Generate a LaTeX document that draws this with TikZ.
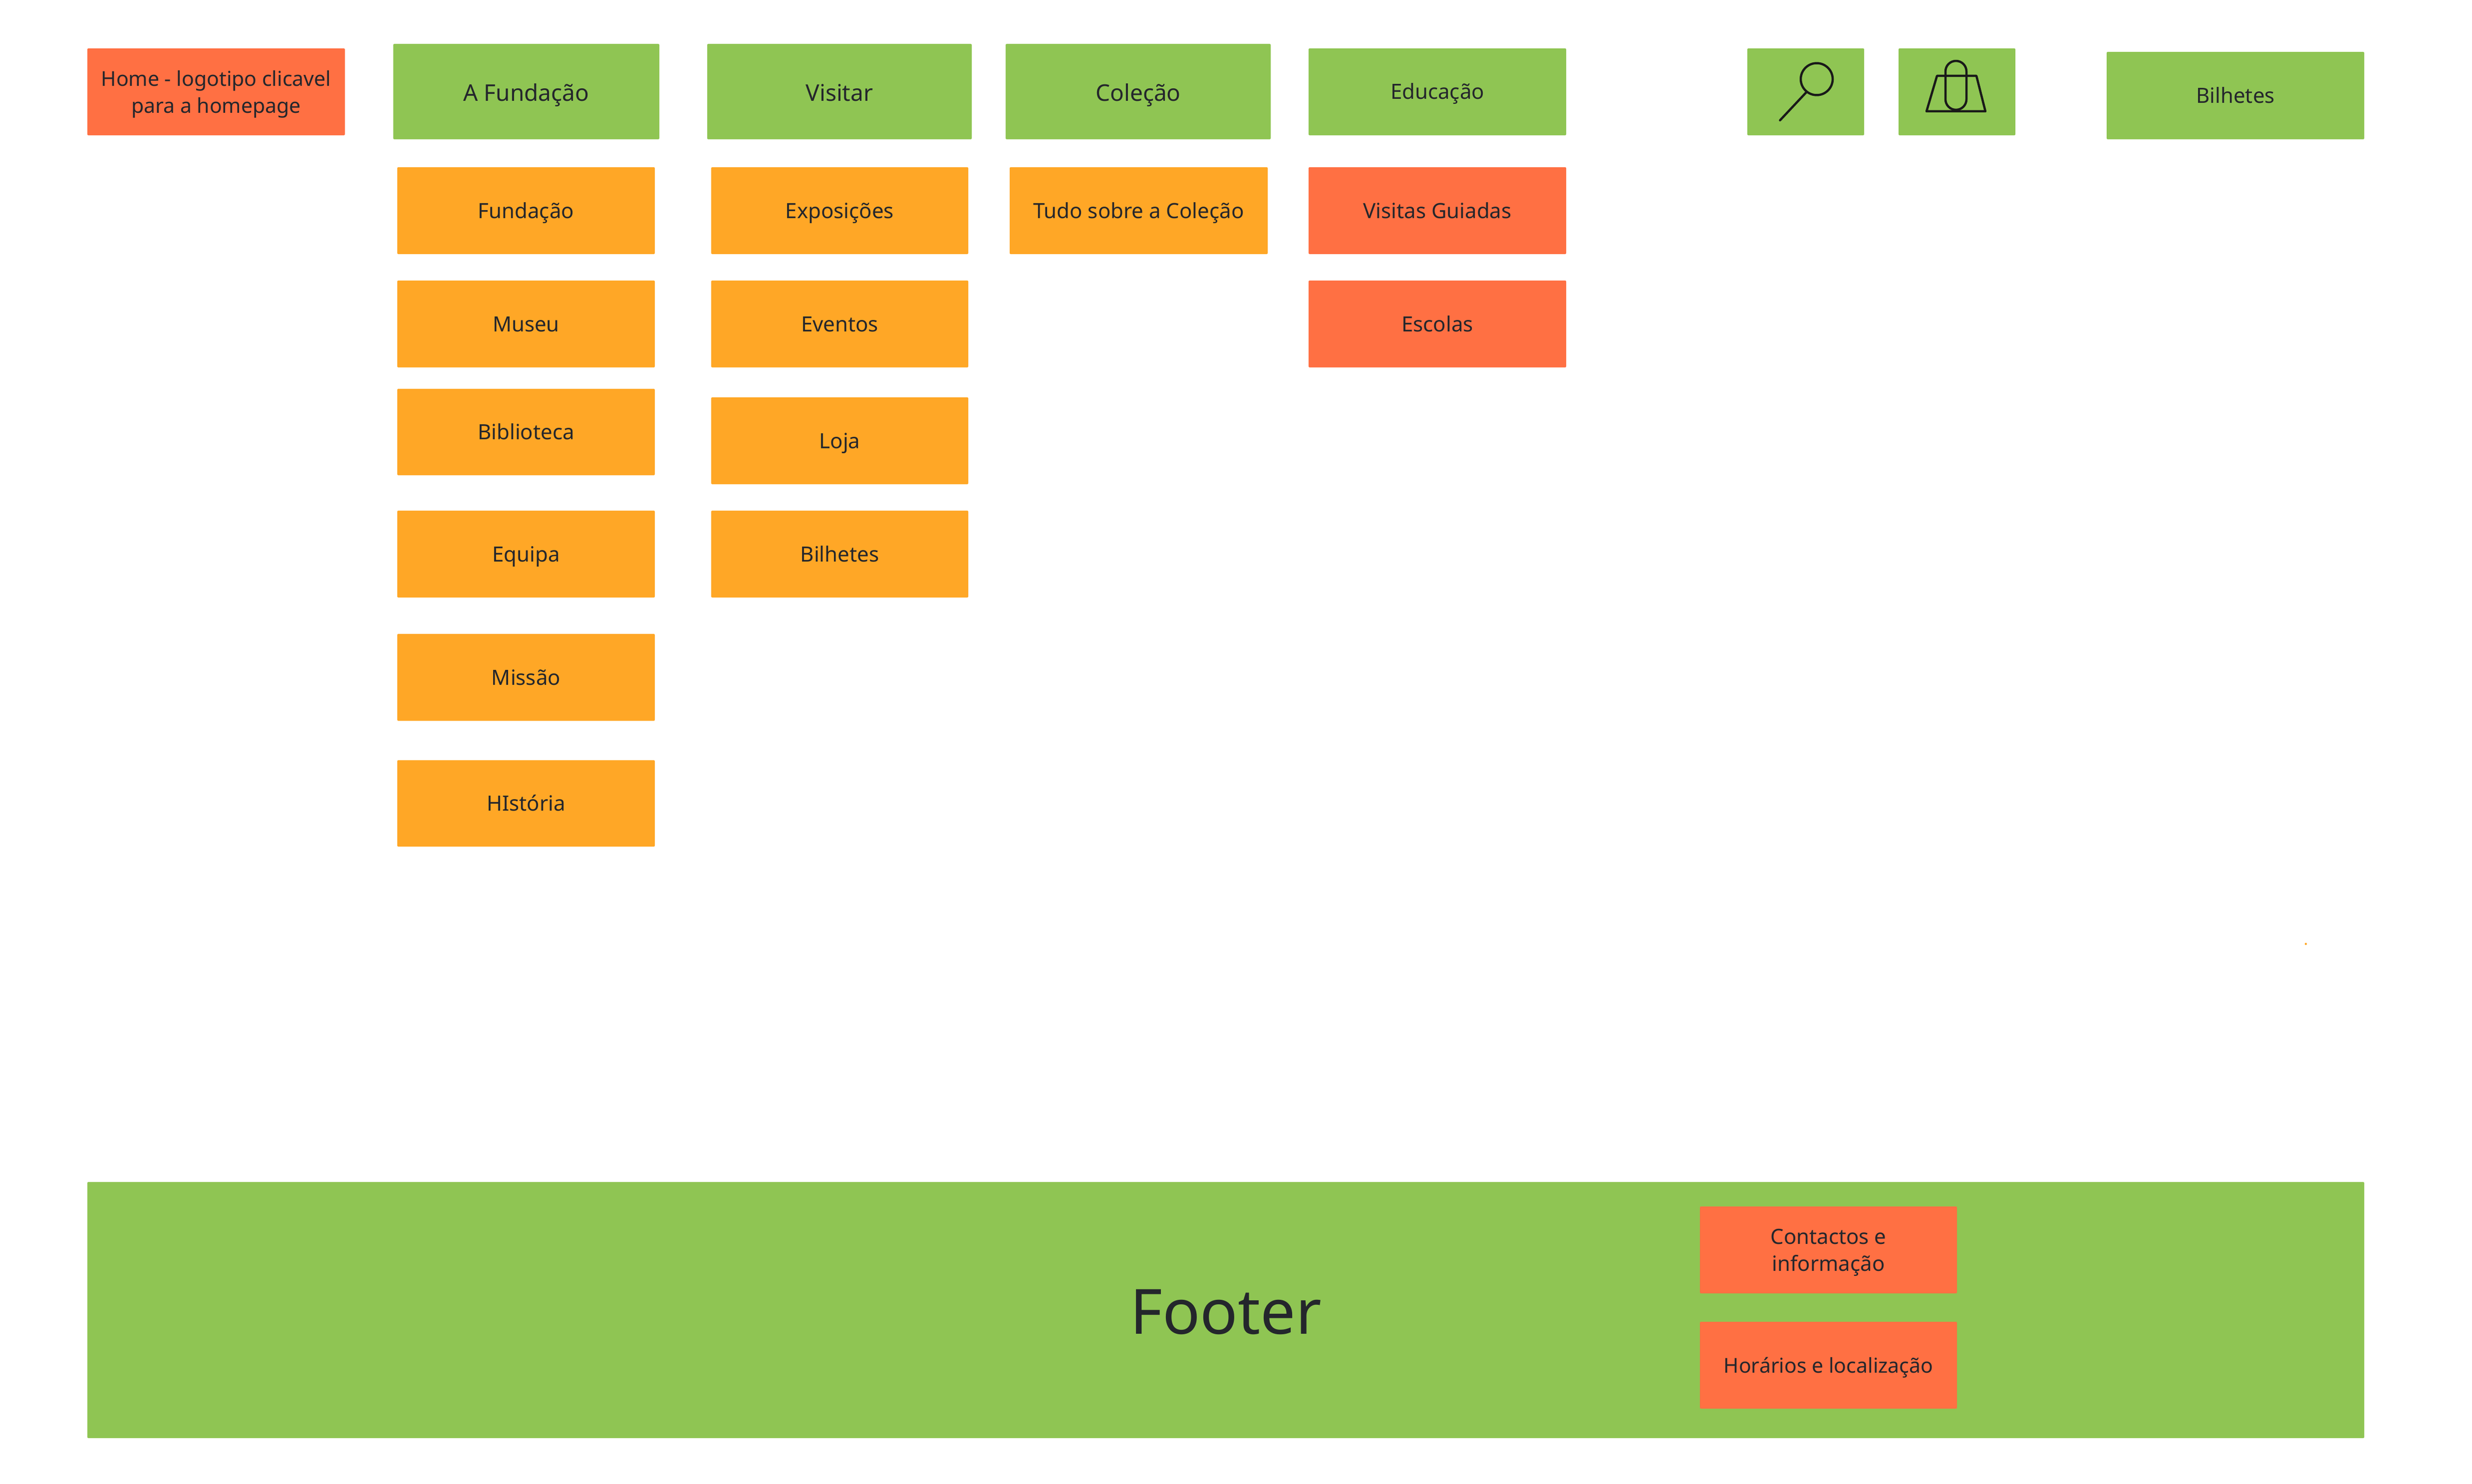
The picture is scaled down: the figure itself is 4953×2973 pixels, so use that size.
\documentclass[tikz,border=0pt]{standalone}
\usepackage{fontspec}
\setmainfont{Noto Sans}
\definecolor{gr}{HTML}{8FC553}
\definecolor{og}{HTML}{FFA726}
\definecolor{rd}{HTML}{FF7043}
\definecolor{ink}{HTML}{24262C}
\newcommand\capl[1]{\raisebox{0pt}[30pt][0pt]{#1}}
\newcommand\capb[1]{\raisebox{-3pt}[33pt][0pt]{#1}}
% \bx{name}{x1}{y1}{x2}{y2}{style}{text}
\newcommand\bx[7]{%
  \pgfmathsetmacro\bw{#4-#2}\pgfmathsetmacro\bh{#5-#3}%
  \pgfmathsetmacro\cx{(#2+#4)/2}\pgfmathsetmacro\cy{(#3+#5)/2}%
  \node[cell,#6,minimum width=\bw pt,minimum height=\bh pt] (#1) at (\cx,\cy) {#7};}
\tikzset{
  x=1pt,y=-1pt,
  cell/.style={inner sep=0pt,outer sep=0pt,rounded corners=2pt,text=ink,align=center,font=\fontsize{42}{54}\selectfont},
  smalltext/.style={font=\fontsize{41}{54}\selectfont},
  grn/.style={fill=gr},
  orn/.style={fill=og},
  red/.style={fill=rd},
  big/.style={font=\fontsize{46}{58}\selectfont},
  icon/.style={draw=black!90,line width=4.5pt,line join=round},
}
\begin{document}
\begin{tikzpicture}
\useasboundingbox (0,0) rectangle (4953,2973);
\bx{home}{175}{97}{691}{271}{red,smalltext}{\capl{Home - logotipo clicavel}\\\capl{para a homepage}}
\bx{fundacaoTop}{788}{88}{1321}{279}{grn,big}{\capb{A Fundação}}
\bx{visitarTop}{1417}{88}{1947}{279}{grn,big}{\capb{Visitar}}
\bx{colecaoTop}{2015}{88}{2546}{279}{grn,big}{\capb{Coleção}}
\bx{educacaoTop}{2622}{97}{3138}{271}{grn}{\capl{Educação}}
\bx{searchbox}{3501}{97}{3735}{271}{grn}{}
\bx{bagbox}{3804}{97}{4038}{271}{grn}{}
\bx{bilhetesTop}{4221}{104}{4737}{279}{grn}{\capl{Bilhetes}}
\bx{fundacao}{796}{335}{1312}{509}{orn}{\capl{Fundação}}
\bx{museu}{796}{562}{1312}{736}{orn}{\capl{Museu}}
\bx{biblioteca}{796}{779}{1312}{952}{orn}{\capl{Biblioteca}}
\bx{equipa}{796}{1023}{1312}{1197}{orn}{\capl{Equipa}}
\bx{missao}{796}{1270}{1312}{1444}{orn}{\capl{Missão}}
\bx{historia}{796}{1523}{1312}{1696}{orn}{\capl{HIstória}}
\bx{exposicoes}{1425}{335}{1940}{509}{orn}{\capl{Exposições}}
\bx{eventos}{1425}{562}{1940}{736}{orn}{\capl{Eventos}}
\bx{loja}{1425}{796}{1940}{970}{orn}{\capl{Loja}}
\bx{bilhetes}{1425}{1023}{1940}{1197}{orn}{\capl{Bilhetes}}
\bx{tudo}{2023}{335}{2540}{509}{orn}{\capl{Tudo sobre a Coleção}}
\bx{visitas}{2622}{335}{3138}{509}{red}{\capl{Visitas Guiadas}}
\bx{escolas}{2622}{562}{3138}{736}{red}{\capl{Escolas}}
\bx{footerbg}{175}{2368}{4737}{2881}{grn,font=\fontsize{125}{150}\selectfont}{\raisebox{-3pt}[89pt][0pt]{Footer}}
\bx{contactos}{3406}{2417}{3921}{2591}{red}{\capl{Contactos e}\\\capl{informação}}
\bx{horarios}{3406}{2648}{3921}{2822}{red,smalltext}{\capl{Horários e localização}}
% magnifier
\draw[icon] (3640,158.5) circle[radius=32];
\draw[icon,line cap=round] (3619,185) -- (3566.5,241);
% bag
\draw[icon] (3881,152) -- (3960,152) -- (3978,223) -- (3860,223) -- cycle;
\draw[icon] (3898,143) arc[start angle=180,end angle=360,radius=21] -- (3940,199) arc[start angle=0,end angle=180,radius=21] -- cycle;
% stray dot
\fill[og] (4620,1891) circle[radius=2.2];
\end{tikzpicture}
\end{document}
